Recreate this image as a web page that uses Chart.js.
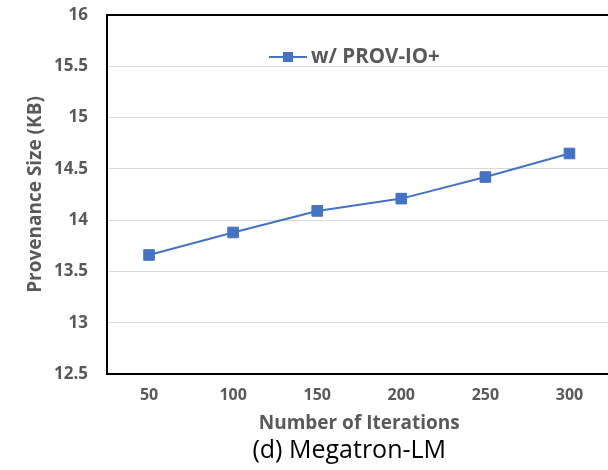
<!DOCTYPE html>
<html>
<head>
<meta charset="utf-8">
<script src="https://cdn.jsdelivr.net/npm/chart.js@4/dist/chart.umd.min.js"></script>
<style>
  html, body { margin: 0; padding: 0; background: #fff; overflow: hidden; }
  #c { display: block; }
</style>
</head>
<body>
<canvas id="c" width="620" height="470"></canvas>
<script>
const categories = ['50', '100', '150', '200', '250', '300'];
const provIOPlus = [13.66, 13.88, 14.09, 14.21, 14.42, 14.65];
const seriesLabel = 'w/ PROV-IO+';
const yTicks = { min: 12.5, max: 16, step: 0.5 };
const xTitle = 'Number of Iterations';
const yTitle = 'Provenance Size (KB)';
const caption = '(d) Megatron-LM';

const FONT = '"Open Sans", "Liberation Sans", sans-serif';
const GREY = '#595959';
const BLUE = '#4472C4';

const framePlugin = {
  id: 'frame',
  afterDraw(chart) {
    const { ctx, chartArea: a } = chart;
    ctx.save();
    ctx.strokeStyle = '#000';
    ctx.lineWidth = 2;
    ctx.beginPath();
    ctx.moveTo(a.left - 1, a.top);
    ctx.lineTo(a.right + 1, a.top);
    ctx.stroke();
    ctx.restore();
  }
};

const captionPlugin = {
  id: 'caption',
  afterDraw(chart) {
    const { ctx, chartArea: a } = chart;
    ctx.save();
    ctx.fillStyle = '#000';
    ctx.font = '25px ' + FONT;
    ctx.textAlign = 'center';
    ctx.textBaseline = 'middle';
    ctx.fillText(caption, (a.left + a.right) / 2 - 10, a.bottom + 77);
    ctx.restore();
  }
};

const legendPlugin = {
  id: 'inlineLegend',
  afterDraw(chart) {
    const { ctx, chartArea: a } = chart;
    const ds = chart.data.datasets[0];
    const y = a.top + 42;
    const x0 = a.left + 162;
    ctx.save();
    ctx.strokeStyle = ds.borderColor;
    ctx.lineWidth = 2;
    ctx.beginPath();
    ctx.moveTo(x0, y);
    ctx.lineTo(x0 + 38, y);
    ctx.stroke();
    ctx.fillStyle = ds.pointBackgroundColor;
    ctx.fillRect(x0 + 14, y - 5, 10, 10);
    ctx.fillStyle = GREY;
    ctx.font = 'bold 20.5px ' + FONT;
    ctx.textBaseline = 'middle';
    ctx.textAlign = 'left';
    ctx.fillText(ds.label, x0 + 42, y);
    ctx.restore();
  }
};

new Chart(document.getElementById('c'), {
  type: 'line',
  data: {
    labels: categories,
    datasets: [{
      label: seriesLabel,
      data: provIOPlus,
      borderColor: BLUE,
      backgroundColor: BLUE,
      pointBackgroundColor: BLUE,
      pointBorderColor: BLUE,
      borderWidth: 2,
      pointStyle: 'rect',
      pointRadius: 7.5,
      pointBorderWidth: 1,
      tension: 0
    }]
  },
  options: {
    responsive: false,
    animation: false,
    layout: { padding: { top: 15, right: 1.5, left: 0, bottom: 33 } },
    plugins: {
      legend: { display: false },
      tooltip: { enabled: false },
      title: { display: false }
    },
    scales: {
      x: {
        offset: true,
        grid: { display: false, drawTicks: false },
        border: { display: true, color: '#000', width: 2 },
        ticks: { color: GREY, font: { family: FONT, size: 16, weight: 'bold' }, padding: 12 },
        title: {
          display: true, text: xTitle, color: GREY,
          font: { family: FONT, size: 19, weight: 'bold' },
          padding: { top: 0, bottom: 2 }
        },
        afterFit(scale) {
          scale.height = 63;
          scale.paddingLeft = 0; scale.paddingRight = 0;
        }
      },
      y: {
        min: yTicks.min, max: yTicks.max,
        grid: { color: '#d9d9d9', lineWidth: 1, drawTicks: false },
        border: { display: true, color: '#000', width: 2 },
        ticks: {
          stepSize: yTicks.step, color: GREY, padding: 19,
          font: { family: FONT, size: 17, weight: 'bold' },
          callback: (v) => String(Number(Number(v).toFixed(1)))
        },
        title: {
          display: true, text: yTitle, color: GREY,
          font: { family: FONT, size: 19, weight: 'bold' },
          padding: { top: 24, bottom: 0 }
        },
        afterFit(scale) {
          scale.width = 107;
          scale.paddingTop = 0; scale.paddingBottom = 0;
        }
      }
    }
  },
  plugins: [framePlugin, legendPlugin, captionPlugin]
});
</script>
</body>
</html>
